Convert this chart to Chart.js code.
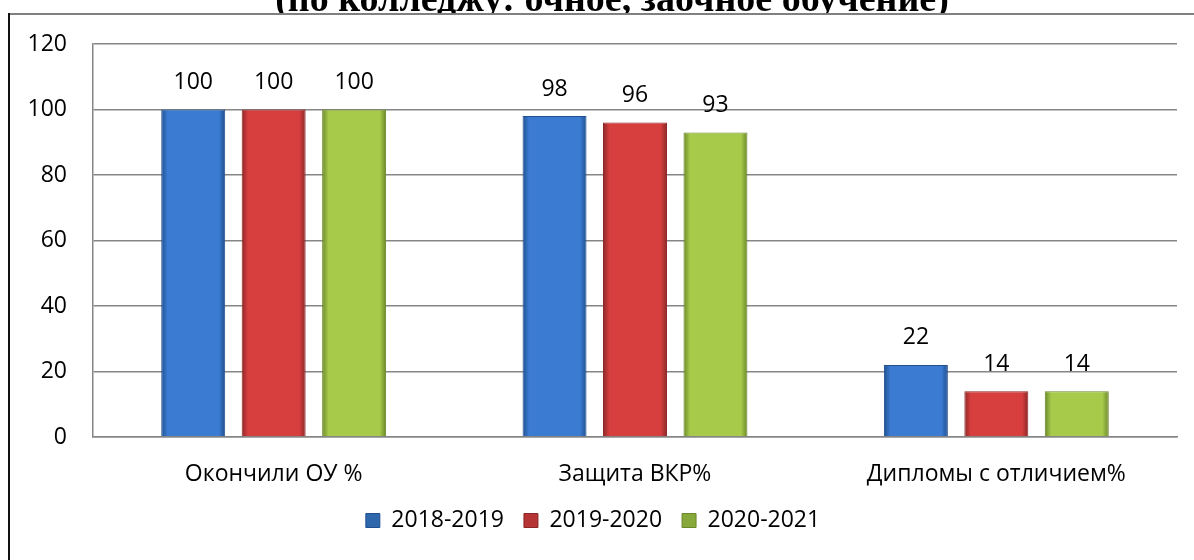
<!DOCTYPE html>
<html>
<head>
<meta charset="utf-8">
<script src="https://cdn.jsdelivr.net/npm/chart.js@4/dist/chart.umd.min.js"></script>
<style>
  html, body { margin: 0; padding: 0; background: #fff; }
  #wrap { width: 1194px; height: 560px; position: relative; }
</style>
</head>
<body>
<div id="wrap"><canvas id="chart"></canvas></div>
<script>
/* ---------- data ---------- */
const TITLE = '(по колледжу: очное, заочное обучение)';
const categories = ['Окончили ОУ %', 'Защита ВКР%', 'Дипломы с отличием%'];
const seriesNames = ['2018-2019', '2019-2020', '2020-2021'];
const values2018 = [100, 98, 22];
const values2019 = [100, 96, 14];
const values2020 = [100, 93, 14];
const yTicks = [0, 20, 40, 60, 80, 100, 120];

/* ---------- colours ---------- */
const BASE = ['#3b7bd2', '#d73f3f', '#a7ca4b'];
const DARK = ['#1f4f8e', '#8c2626', '#6a8729'];
const LEGEND_FILL = ['#2f67ad', '#b73434', '#87a83a'];
const FONT = "'Open Sans', 'Liberation Sans', sans-serif";
const FONT_SIZE = 23;

function barFill(c) {
  const i = c.datasetIndex;
  if (c.type !== 'data') return BASE[i];
  const bar = c.chart.getDatasetMeta(i).data[c.dataIndex];
  if (!bar || !bar.width || isNaN(bar.x)) return BASE[i];
  const x0 = bar.x - bar.width / 2, x1 = bar.x + bar.width / 2;
  const g = c.chart.ctx.createLinearGradient(x0, 0, x1, 0);
  g.addColorStop(0, DARK[i]);
  g.addColorStop(0.1, BASE[i]);
  g.addColorStop(0.9, BASE[i]);
  g.addColorStop(1, DARK[i]);
  return g;
}

/* ---------- plugins ---------- */
const frame = {
  id: 'frame',
  beforeDraw(chart) {
    const ctx = chart.ctx;
    ctx.save();
    ctx.fillStyle = '#000';
    ctx.font = "bold 38px 'Liberation Serif', 'DejaVu Serif', serif";
    ctx.textAlign = 'center';
    ctx.textBaseline = 'alphabetic';
    ctx.fillText(TITLE, 612, 11);
    // white chart box covers the lower part of the title
    ctx.fillStyle = '#fff';
    ctx.fillRect(9, 14, chart.width, chart.height);
    ctx.strokeStyle = '#808080';
    ctx.lineWidth = 2;
    ctx.beginPath();
    ctx.moveTo(9, 14);
    ctx.lineTo(chart.width, 14);
    ctx.stroke();
    ctx.strokeStyle = '#111';
    ctx.beginPath();
    ctx.moveTo(9, 13);
    ctx.lineTo(9, chart.height);
    ctx.stroke();
    ctx.restore();
  }
};

const valueLabels = {
  id: 'valueLabels',
  afterDatasetsDraw(chart) {
    const ctx = chart.ctx;
    ctx.save();
    ctx.font = FONT_SIZE + 'px ' + FONT;
    ctx.fillStyle = '#000';
    ctx.textAlign = 'center';
    ctx.textBaseline = 'middle';
    chart.data.datasets.forEach((ds, i) => {
      chart.getDatasetMeta(i).data.forEach((bar, j) => {
        ctx.fillText(String(ds.data[j]), bar.x, bar.y - 27);
      });
    });
    ctx.restore();
  }
};

/* ---------- chart ---------- */
const chart = new Chart(document.getElementById('chart'), {
  type: 'bar',
  data: {
    labels: categories,
    datasets: [values2018, values2019, values2020].map((vals, i) => ({
      label: seriesNames[i],
      data: vals,
      backgroundColor: barFill,
      borderColor: DARK[i],
      borderWidth: 1,
      categoryPercentage: 0.668,
      barPercentage: 0.795
    }))
  },
  options: {
    responsive: true,
    maintainAspectRatio: false,
    animation: false,
    layout: { padding: { left: 9, top: 44, right: 17, bottom: 18 } },
    scales: {
      x: {
        grid: { display: false, drawTicks: false },
        border: { display: true, color: '#868686', width: 1.5 },
        ticks: { color: '#000', font: { family: FONT, size: FONT_SIZE }, padding: 24, maxRotation: 0 },
        afterFit: s => { s.height = 52; }
      },
      y: {
        min: 0,
        max: 120,
        afterBuildTicks: s => { s.ticks = yTicks.map(v => ({ value: v })); },
        grid: { color: '#868686', lineWidth: 1.5, drawTicks: false },
        border: { display: true, color: '#868686', width: 1.5 },
        ticks: { color: '#000', font: { family: FONT, size: FONT_SIZE }, padding: 26 },
        afterFit: s => { s.width = 84; }
      }
    },
    plugins: {
      title: { display: false },
      tooltip: { enabled: false },
      legend: {
        position: 'bottom',
        labels: {
          color: '#000',
          font: { family: FONT, size: FONT_SIZE },
          boxWidth: 14,
          boxHeight: 14,
          padding: 20,
          generateLabels: ch => Chart.defaults.plugins.legend.labels.generateLabels(ch)
            .map((l, i) => Object.assign(l, { fillStyle: LEGEND_FILL[i], strokeStyle: DARK[i], lineWidth: 1 }))
        }
      }
    }
  },
  plugins: [frame, valueLabels]
});
chart.update('none');
</script>
</body>
</html>
